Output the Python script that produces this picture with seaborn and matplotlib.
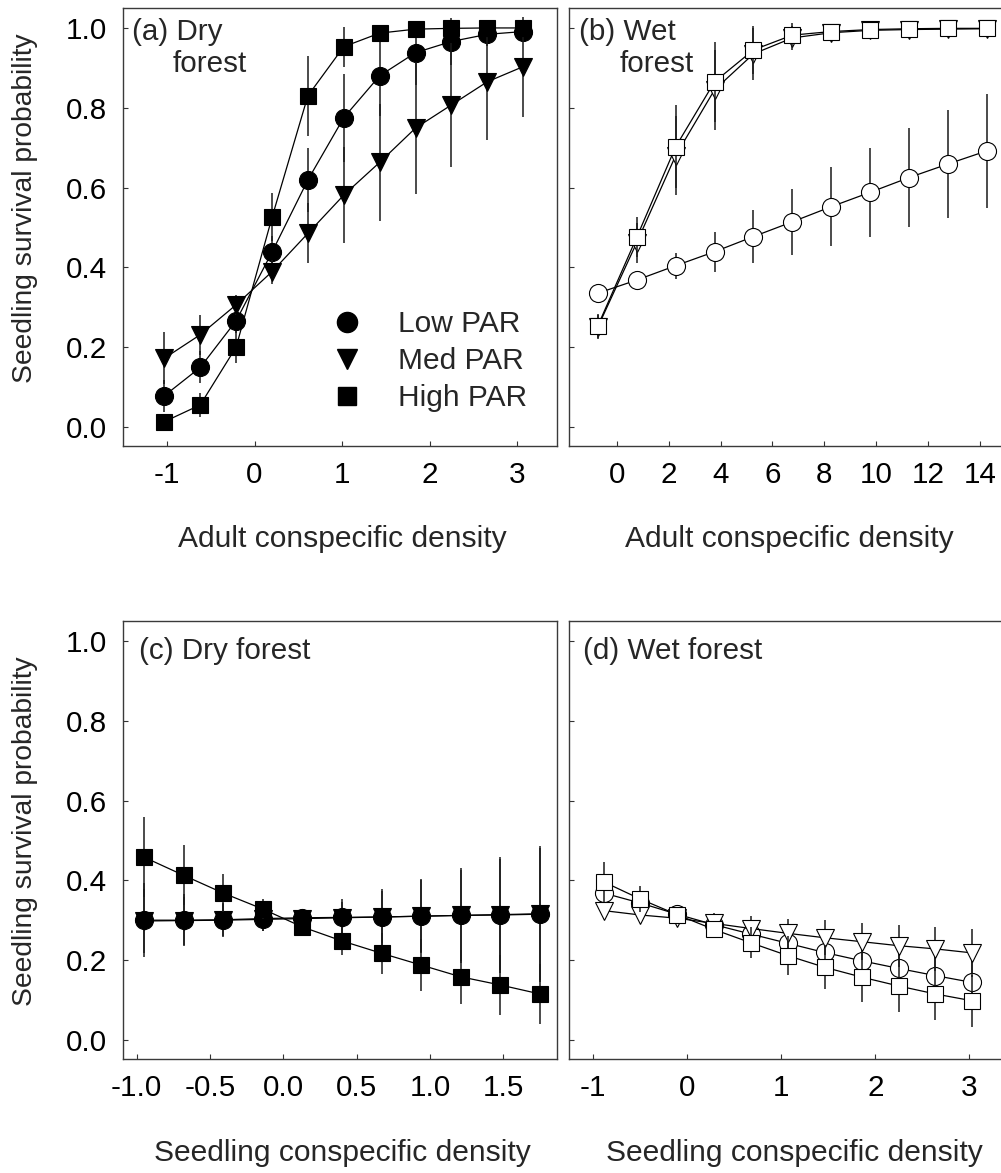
import numpy as np
import seaborn as sns
import matplotlib
matplotlib.use('Agg')
from matplotlib import pyplot as plt
from matplotlib.lines import Line2D

# %% data
# (a) dry forest, adult density
a_x = [-1.03, -0.62, -0.21, 0.20, 0.61, 1.02, 1.43, 1.84, 2.25, 2.66, 3.07]
a_low = [0.078, 0.149, 0.266, 0.438, 0.619, 0.775, 0.880, 0.938, 0.966, 0.984, 0.991]
a_low_err = [0.04, 0.04, 0.03, 0.04, 0.08, 0.11, 0.10, 0.08, 0.06, 0.03, 0.02]
a_med = [0.172, 0.231, 0.306, 0.389, 0.485, 0.581, 0.663, 0.749, 0.807, 0.865, 0.903]
a_med_err = [0.065, 0.05, 0.025, 0.03, 0.075, 0.12, 0.146, 0.165, 0.155, 0.145, 0.125]
a_high = [0.013, 0.055, 0.200, 0.525, 0.830, 0.953, 0.987, 0.997, 0.999, 1.0, 1.0]
a_high_err = [0.012, 0.03, 0.04, 0.06, 0.10, 0.05, 0.015, 0.005, 0.002, 0.001, 0.001]

# (b) wet forest, adult density
b_x = [-0.73, 0.77, 2.27, 3.77, 5.27, 6.77, 8.27, 9.77, 11.27, 12.77, 14.27]
b_low = [0.335, 0.368, 0.404, 0.439, 0.477, 0.514, 0.552, 0.588, 0.625, 0.659, 0.692]
b_low_err = [0.01, 0.015, 0.033, 0.05, 0.066, 0.083, 0.099, 0.112, 0.125, 0.136, 0.143]
b_med = [0.250, 0.462, 0.680, 0.845, 0.935, 0.975, 0.988, 0.994, 0.996, 0.997, 0.998]
b_med_err = [0.03, 0.05, 0.10, 0.10, 0.065, 0.03, 0.012, 0.006, 0.004, 0.003, 0.002]
b_high = [0.253, 0.475, 0.702, 0.865, 0.945, 0.982, 0.991, 0.996, 0.998, 0.999, 0.999]
b_high_err = [0.03, 0.05, 0.104, 0.10, 0.06, 0.03, 0.01, 0.005, 0.003, 0.002, 0.001]

# (c) dry forest, seedling density
c_x = [-0.95, -0.68, -0.41, -0.14, 0.13, 0.40, 0.67, 0.94, 1.21, 1.48, 1.75]
c_low = [0.300, 0.300, 0.301, 0.304, 0.306, 0.307, 0.308, 0.310, 0.312, 0.313, 0.315]
c_low_err = [0.092, 0.065, 0.043, 0.03, 0.02, 0.045, 0.07, 0.093, 0.12, 0.145, 0.17]
c_med = [0.298, 0.299, 0.300, 0.302, 0.304, 0.306, 0.308, 0.310, 0.312, 0.314, 0.316]
c_med_err = [0.08, 0.06, 0.04, 0.028, 0.02, 0.04, 0.065, 0.09, 0.115, 0.14, 0.165]
c_high = [0.458, 0.4125, 0.368, 0.328, 0.283, 0.248, 0.217, 0.1875, 0.158, 0.1375, 0.115]
c_high_err = [0.10, 0.075, 0.047, 0.024, 0.02, 0.035, 0.052, 0.065, 0.068, 0.075, 0.075]

# (d) wet forest, seedling density
d_x = [-0.89, -0.50, -0.11, 0.28, 0.68, 1.07, 1.46, 1.86, 2.25, 2.64, 3.03]
d_low = [0.368, 0.343, 0.315, 0.289, 0.265, 0.242, 0.219, 0.198, 0.179, 0.161, 0.144]
d_low_err = [0.03, 0.022, 0.012, 0.018, 0.027, 0.035, 0.042, 0.048, 0.053, 0.057, 0.06]
d_med = [0.324, 0.313, 0.305, 0.292, 0.279, 0.267, 0.256, 0.246, 0.236, 0.228, 0.218]
d_med_err = [0.02, 0.014, 0.008, 0.026, 0.031, 0.037, 0.044, 0.047, 0.053, 0.055, 0.061]
d_high = [0.396, 0.353, 0.314, 0.277, 0.243, 0.211, 0.182, 0.157, 0.135, 0.115, 0.098]
d_high_err = [0.05, 0.033, 0.015, 0.02, 0.039, 0.049, 0.055, 0.061, 0.064, 0.065, 0.065]

legend_labels = ['Low PAR', 'Med PAR', 'High PAR']

# %% style
sns.set_style('ticks')
plt.rcParams['font.family'] = ['Liberation Sans', 'DejaVu Sans']
plt.rcParams['axes.unicode_minus'] = False

FS = 21.3
W, H = 1001, 1173
fig = plt.figure(figsize=(W / 100, H / 100), dpi=100)


def box(l, t, r, b):
    return [l / W, 1 - b / H, (r - l) / W, (b - t) / H]


ax_a = fig.add_axes(box(123, 8, 557, 446))
ax_b = fig.add_axes(box(569, 8, 1001, 446))
ax_c = fig.add_axes(box(123, 621, 557, 1059))
ax_d = fig.add_axes(box(569, 621, 1001, 1059))

markers = {'low': ('o', 13), 'med': ('v', 13), 'high': ('s', 12)}


def draw(ax, x, ys, errs, filled, order=('low', 'med', 'high')):
    for i, key in enumerate(order):
        z = 3 + i
        mk, ms = markers[key]
        ax.errorbar(x, ys[key], yerr=errs[key], fmt='none', ecolor='#1a1a1a',
                    elinewidth=1.1, capsize=0, zorder=z)
        sns.lineplot(x=x, y=ys[key], ax=ax, color='black', linewidth=0.9,
                     marker=mk, markersize=ms,
                     markerfacecolor='black' if filled else 'white',
                     markeredgecolor='black', markeredgewidth=0.8,
                     errorbar=None, zorder=z + 0.5)


draw(ax_a, a_x, {'low': a_low, 'med': a_med, 'high': a_high},
     {'low': a_low_err, 'med': a_med_err, 'high': a_high_err}, True)
draw(ax_b, b_x, {'low': b_low, 'med': b_med, 'high': b_high},
     {'low': b_low_err, 'med': b_med_err, 'high': b_high_err}, False)
draw(ax_c, c_x, {'low': c_low, 'med': c_med, 'high': c_high},
     {'low': c_low_err, 'med': c_med_err, 'high': c_high_err}, True,
     order=('med', 'low', 'high'))
draw(ax_d, d_x, {'low': d_low, 'med': d_med, 'high': d_high},
     {'low': d_low_err, 'med': d_med_err, 'high': d_high_err}, False)

# axes limits, ticks, frame
limits = {ax_a: (-1.503, 3.457), ax_b: (-1.84, 14.81),
          ax_c: (-1.093, 1.866), ax_d: (-1.259, 3.338)}
xticks = {ax_a: [-1, 0, 1, 2, 3], ax_b: [0, 2, 4, 6, 8, 10, 12, 14],
          ax_c: [-1.0, -0.5, 0.0, 0.5, 1.0, 1.5], ax_d: [-1, 0, 1, 2, 3]}
for ax in [ax_a, ax_b, ax_c, ax_d]:
    ax.set_xlim(*limits[ax])
    ax.set_ylim(-0.048, 1.05)
    ax.set_xticks(xticks[ax])
    ax.set_yticks([0.0, 0.2, 0.4, 0.6, 0.8, 1.0])
    if ax is ax_c:
        ax.set_xticklabels(['%.1f' % t for t in xticks[ax]])
    else:
        ax.set_xticklabels(['%d' % t for t in xticks[ax]])
    ax.set_yticklabels(['%.1f' % t for t in [0.0, 0.2, 0.4, 0.6, 0.8, 1.0]])
    ax.tick_params(axis='x', direction='in', length=3.5, width=0.8,
                   pad=10.8, labelsize=FS, colors='#333333', labelcolor='black')
    ax.tick_params(axis='y', direction='in', length=3.5, width=0.8,
                   pad=11.5, labelsize=FS, colors='#333333', labelcolor='black')
    ax.set_xlabel('')
    ax.set_ylabel('')
    for sp in ax.spines.values():
        sp.set_visible(True)
        sp.set_color('#3a3a3a')
        sp.set_linewidth(1.0)

for ax in [ax_b, ax_d]:
    ax.tick_params(axis='y', labelleft=False)
    ax.spines['right'].set_visible(False)

# panel labels
ax_a.text(0.020, 0.927, '(a) Dry', transform=ax_a.transAxes, fontsize=FS, va='baseline')
ax_a.text(0.115, 0.854, 'forest', transform=ax_a.transAxes, fontsize=FS, va='baseline')
ax_b.text(0.023, 0.927, '(b) Wet', transform=ax_b.transAxes, fontsize=FS, va='baseline')
ax_b.text(0.118, 0.854, 'forest', transform=ax_b.transAxes, fontsize=FS, va='baseline')
ax_c.text(0.037, 0.913, '(c) Dry forest', transform=ax_c.transAxes, fontsize=FS, va='baseline')
ax_d.text(0.033, 0.913, '(d) Wet forest', transform=ax_d.transAxes, fontsize=FS, va='baseline')

# legend in panel (a)
handles = [Line2D([], [], linestyle='none', marker=markers[k][0], markersize=markers[k][1] + 1.5,
                  markerfacecolor='black', markeredgecolor='black')
           for k in ['low', 'med', 'high']]
ax_a.legend(handles, legend_labels, loc='center left', bbox_to_anchor=(0.4816, 0.194),
            frameon=False, fontsize=21.5, handlelength=1.0, handletextpad=1.2,
            labelspacing=0.3, borderpad=0, borderaxespad=0)

# axis titles
fig.text(25 / W, 1 - 208 / H, 'Seedling survival probability', rotation=90,
         ha='center', va='center', fontsize=20.3)
fig.text(25 / W, 1 - 831 / H, 'Seedling survival probability', rotation=90,
         ha='center', va='center', fontsize=20.3)
fig.text(342 / W, 1 - 547 / H, 'Adult conspecific density', ha='center', va='baseline', fontsize=21.6)
fig.text(789 / W, 1 - 547 / H, 'Adult conspecific density', ha='center', va='baseline', fontsize=21.6)
fig.text(342 / W, 1 - 1161 / H, 'Seedling conspecific density', ha='center', va='baseline', fontsize=21.6)
fig.text(794 / W, 1 - 1161 / H, 'Seedling conspecific density', ha='center', va='baseline', fontsize=21.6)

plt.savefig('out.png', dpi=100)
